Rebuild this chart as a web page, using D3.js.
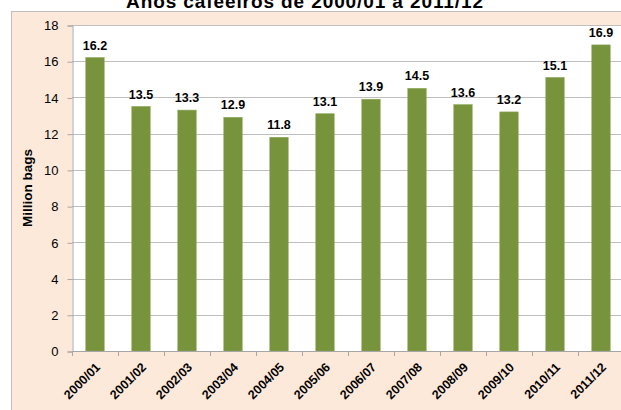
<!DOCTYPE html>
<html>
<head>
<meta charset="utf-8">
<script src="https://cdn.jsdelivr.net/npm/d3@7"></script>
<style>
  body { margin: 0; background: #ffffff; }
  svg { display: block; font-family: "Liberation Sans", Arial, sans-serif; }
</style>
</head>
<body>
<div id="vis"></div>
<script>
// chart data
const seasons = ["2000/01", "2001/02", "2002/03", "2003/04", "2004/05", "2005/06",
                 "2006/07", "2007/08", "2008/09", "2009/10", "2010/11", "2011/12"];
const bags = [16.2, 13.5, 13.3, 12.9, 11.8, 13.1, 13.9, 14.5, 13.6, 13.2, 15.1, 16.9];
const yTicks = [0, 2, 4, 6, 8, 10, 12, 14, 16, 18];

const FRAME_WIDTH = 621;
const FRAME_HEIGHT = 410;
const PLOT = {left: 72, right: 624, top: 25, bottom: 351};

const svg = d3.select("#vis")
  .append("svg")
    .attr("width", FRAME_WIDTH)
    .attr("height", FRAME_HEIGHT);

// chart area background
svg.append("rect")
  .attr("x", 11.5).attr("y", 11.5)
  .attr("width", FRAME_WIDTH + 10).attr("height", FRAME_HEIGHT + 10)
  .attr("fill", "#fde9d9")
  .attr("stroke", "#c0bdba");

// plot area
svg.append("rect")
  .attr("x", PLOT.left).attr("y", PLOT.top)
  .attr("width", PLOT.right - PLOT.left).attr("height", PLOT.bottom - PLOT.top)
  .attr("fill", "#ffffff");

const X_SCALE = d3.scaleBand()
  .domain(seasons)
  .range([PLOT.left, PLOT.right])
  .paddingInner(0.6)
  .paddingOuter(0.3);

const Y_SCALE = d3.scaleLinear()
  .domain([0, 18])
  .range([PLOT.bottom, PLOT.top]);

// gridlines
svg.append("g")
  .selectAll("line")
  .data(yTicks.filter(d => d > 0))
  .enter()
  .append("line")
    .attr("x1", PLOT.left).attr("x2", PLOT.right)
    .attr("y1", d => Math.round(Y_SCALE(d)) + 0.5)
    .attr("y2", d => Math.round(Y_SCALE(d)) + 0.5)
    .attr("stroke", "#bfbfbf");

// y axis
const yAxis = svg.append("g")
  .attr("transform", "translate(" + (PLOT.left + 0.5) + ",0.5)")
  .call(d3.axisLeft(Y_SCALE).tickValues(yTicks).tickSize(5).tickPadding(9));
yAxis.select(".domain").attr("stroke", "#a6a6a6");
yAxis.selectAll(".tick line").attr("stroke", "#a6a6a6");
yAxis.selectAll("text")
  .attr("font-size", "13px")
  .attr("fill", "#000")
  .attr("font-family", "Liberation Sans, Arial, sans-serif");

// bars
svg.append("g")
  .selectAll("rect")
  .data(bags)
  .enter()
  .append("rect")
    .attr("x", (d, i) => X_SCALE(seasons[i]))
    .attr("y", d => Y_SCALE(d))
    .attr("width", X_SCALE.bandwidth())
    .attr("height", d => PLOT.bottom - Y_SCALE(d))
    .attr("fill", "#77933c")
    .attr("stroke", "#8aa653")
    .attr("stroke-width", 0.6);

// value labels
svg.append("g")
  .selectAll("text")
  .data(bags)
  .enter()
  .append("text")
    .attr("x", (d, i) => X_SCALE(seasons[i]) + X_SCALE.bandwidth() / 2)
    .attr("y", d => Y_SCALE(d) - 8)
    .attr("text-anchor", "middle")
    .attr("font-size", "12.5px")
    .attr("font-weight", "bold")
    .text(d => d.toFixed(1));

// x axis with tick marks between categories
const step = X_SCALE.step();
const xAxis = svg.append("g");
xAxis.append("line")
  .attr("x1", PLOT.left).attr("x2", PLOT.right)
  .attr("y1", PLOT.bottom + 0.5).attr("y2", PLOT.bottom + 0.5)
  .attr("stroke", "#a6a6a6");
xAxis.selectAll(".sep")
  .data(seasons)
  .enter()
  .append("line")
    .attr("x1", (d) => Math.round(X_SCALE(d) - X_SCALE.paddingOuter() * step) + 0.5)
    .attr("x2", (d) => Math.round(X_SCALE(d) - X_SCALE.paddingOuter() * step) + 0.5)
    .attr("y1", PLOT.bottom)
    .attr("y2", PLOT.bottom + 5)
    .attr("stroke", "#a6a6a6");

xAxis.selectAll(".lab")
  .data(seasons)
  .enter()
  .append("text")
    .attr("transform", d => "translate(" + (X_SCALE(d) + X_SCALE.bandwidth() / 2 + 6) + "," + (PLOT.bottom + 17) + ") rotate(-45)")
    .attr("text-anchor", "end")
    .attr("font-size", "12.5px")
    .attr("font-weight", "bold")
    .text(d => d);

// y axis title
svg.append("text")
  .attr("transform", "translate(32," + ((PLOT.top + PLOT.bottom) / 2) + ") rotate(-90)")
  .attr("text-anchor", "middle")
  .attr("font-size", "13.5px")
  .attr("font-weight", "bold")
  .text("Million bags");

// chart title (cut off at top edge, as in the source image)
svg.append("text")
  .attr("x", 305)
  .attr("y", 8)
  .attr("text-anchor", "middle")
  .attr("font-size", "19px")
  .attr("letter-spacing", "0.9px")
  .attr("font-weight", "bold")
  .text("Anos cafeeiros de 2000/01 a 2011/12");
</script>
</body>
</html>
